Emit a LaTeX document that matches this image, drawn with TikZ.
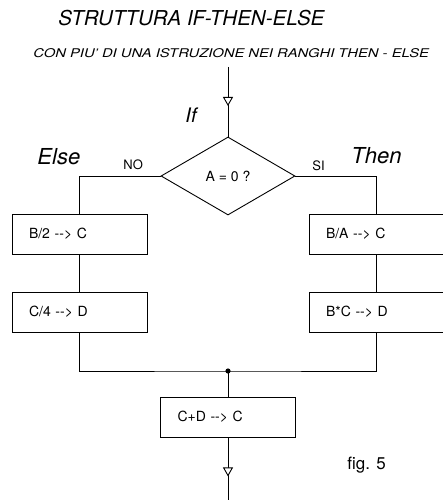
\documentclass[tikz,border=0pt]{standalone}
\usepackage{fontspec}
\setmainfont{TeX Gyre Heros}
\usetikzlibrary{shapes.geometric,arrows.meta,decorations.markings}
\begin{document}
\begin{tikzpicture}[x=1pt,y=-1pt,line width=0.9pt,
  box/.style={draw,rectangle,minimum width=135pt,minimum height=40pt,
    text width=101pt,inner xsep=17pt,inner ysep=0pt,align=left,
    font=\fontsize{14}{16}\selectfont},
  lbl/.style={anchor=base west,inner sep=0pt},
  flowarrow/.style={postaction={decorate},
    decoration={markings,mark=at position 39pt with
      {\arrow[line width=0.9pt]{Triangle[width=10pt,length=9pt,fill=white]}}}}]
\useasboundingbox (0,0) rectangle (443,500);

% titles
\node[lbl,font=\fontsize{20.5}{24}\selectfont\itshape] (title) at (58,26) {STRUTTURA IF-THEN-ELSE};
\node[lbl,font=\fontsize{12}{14}\selectfont\itshape] (subtitle) at (33,58)
  {\scalebox{1.23}[1]{CON PIU' DI UNA ISTRUZIONE NEI RANGHI THEN - ELSE}};

% decision
\node[diamond,draw,minimum width=134pt,minimum height=78pt,inner sep=0pt,
  font=\fontsize{14}{16}\selectfont] (dec) at (228,176) {A = 0 ?};
\coordinate (topin) at (228,67);
\draw[flowarrow] (topin) -- (dec.north);

% labels
\node[lbl,font=\fontsize{20}{24}\selectfont\itshape] (iflbl) at (185,122) {If};
\node[lbl,font=\fontsize{22}{26}\selectfont\itshape] (elselbl) at (37,164) {Else};
\node[lbl,font=\fontsize{22}{26}\selectfont\itshape] (thenlbl) at (351,163) {Then};
\node[lbl,font=\fontsize{13}{15}\selectfont] (nolbl) at (123,169) {NO};
\node[lbl,font=\fontsize{13}{15}\selectfont] (silbl) at (312,170) {SI};

% boxes
\node[box] (b2c) at (79.5,234) {B/2 -{}-{}> C};
\node[box] (c4d) at (79.5,312) {C/4 -{}-{}> D};
\node[box] (bac) at (376.5,234) {B/A -{}-{}> C};
\node[box] (bcd) at (376.5,312) {B*C -{}-{}> D};
\node[box] (cdc) at (228,417) {C+D -{}-{}> C};

% connectors
\draw (dec.west) -| (b2c.north);
\draw (dec.east) -| (bac.north);
\draw (b2c) -- (c4d);
\draw (bac) -- (bcd);
\coordinate (join) at (228,371);
\draw (c4d.south) |- (join) -| (bcd.south);
\fill (join) circle (2.6pt);
\draw (join) -- (cdc.north);
\coordinate (botout) at (228,503);
\draw[flowarrow] (cdc.south) -- (botout);

\node[lbl,font=\fontsize{17}{20}\selectfont] (fig) at (347,469) {fig. 5};
\end{tikzpicture}
\end{document}
